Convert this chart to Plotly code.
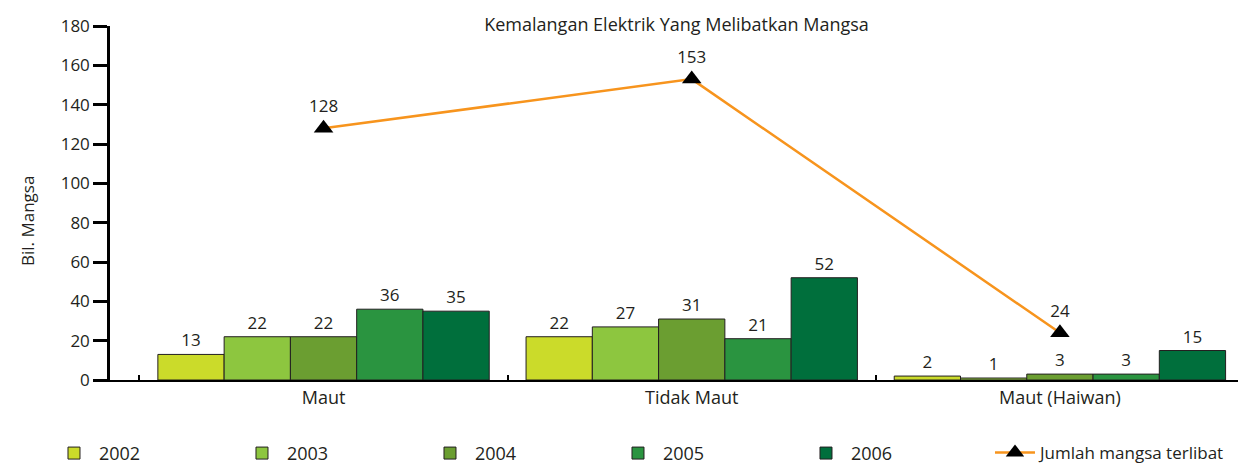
import plotly.graph_objects as go

categories = ["Maut", "Tidak Maut", "Maut (Haiwan)"]
years = ["2002", "2003", "2004", "2005", "2006"]
values = {
    "2002": [13, 22, 2],
    "2003": [22, 27, 1],
    "2004": [22, 31, 3],
    "2005": [36, 21, 3],
    "2006": [35, 52, 15],
}
totals = [128, 153, 24]
colors = ["#CBDB2A", "#8DC63F", "#6B9E31", "#2A9440", "#006F3C"]
y_ticks = [0, 20, 40, 60, 80, 100, 120, 140, 160, 180]

FONT = "Open Sans"
TXT = "#231F20"

fig = go.Figure()
for yr, col in zip(years, colors):
    fig.add_trace(go.Bar(
        x=categories, y=values[yr], name=yr,
        marker=dict(color=col, line=dict(color=TXT, width=1)),
        text=[str(v) for v in values[yr]], textposition="outside",
        textfont=dict(family=FONT, size=17, color=TXT),
        cliponaxis=False, legend="legend",
    ))

fig.add_trace(go.Scatter(
    x=categories, y=totals, name="Jumlah mangsa terlibat",
    mode="lines+markers+text",
    line=dict(color="#F7941D", width=2.5),
    marker=dict(symbol="triangle-up", size=17, color="black"),
    text=[str(v) for v in totals], textposition="top center",
    textfont=dict(family=FONT, size=17, color=TXT),
    cliponaxis=False, legend="legend2",
))

fig.update_layout(
    width=1238, height=458,
    margin=dict(l=102, r=2, t=18, b=86, autoexpand=False),
    paper_bgcolor="white", plot_bgcolor="white",
    font=dict(family=FONT, size=17, color=TXT),
    barmode="group", bargap=0.1, bargroupgap=0,
    title=dict(text="Kemalangan Elektrik Yang Melibatkan Mangsa",
               x=0.540, xanchor="center", y=0.963, yanchor="middle",
               font=dict(family=FONT, size=18, color=TXT)),
    showlegend=True,
    legend=dict(orientation="h", x=-0.0538, xanchor="left", y=-0.155, yanchor="top",
                entrywidth=133, entrywidthmode="pixels",
                font=dict(family=FONT, size=18, color=TXT),
                traceorder="normal", itemwidth=40),
    legend2=dict(orientation="h", x=0.776, xanchor="left", y=-0.155, yanchor="top",
                 font=dict(family=FONT, size=17, color=TXT), itemwidth=40),
    xaxis=dict(type="category", range=[-0.58, 2.5], showline=True, linecolor="black",
               linewidth=2, ticks="inside", ticklen=5, tickwidth=1.5, tickcolor="black",
               tickson="boundaries", showgrid=False,
               tickfont=dict(family=FONT, size=18, color=TXT)),
    yaxis=dict(range=[0, 180], tickvals=y_ticks, showline=True, linecolor="black",
               linewidth=2.5, ticks="outside", ticklen=14, tickwidth=2.5, tickcolor="black",
               showgrid=False, zeroline=False,
               tickfont=dict(family=FONT, size=17, color=TXT)),
    annotations=[dict(text="Bil. Mangsa", textangle=-90, xref="paper", yref="paper",
                      x=-0.0732, y=0.449, xanchor="center", yanchor="middle",
                      showarrow=False, font=dict(family=FONT, size=17, color=TXT))],
)

fig.write_html("out.html")
